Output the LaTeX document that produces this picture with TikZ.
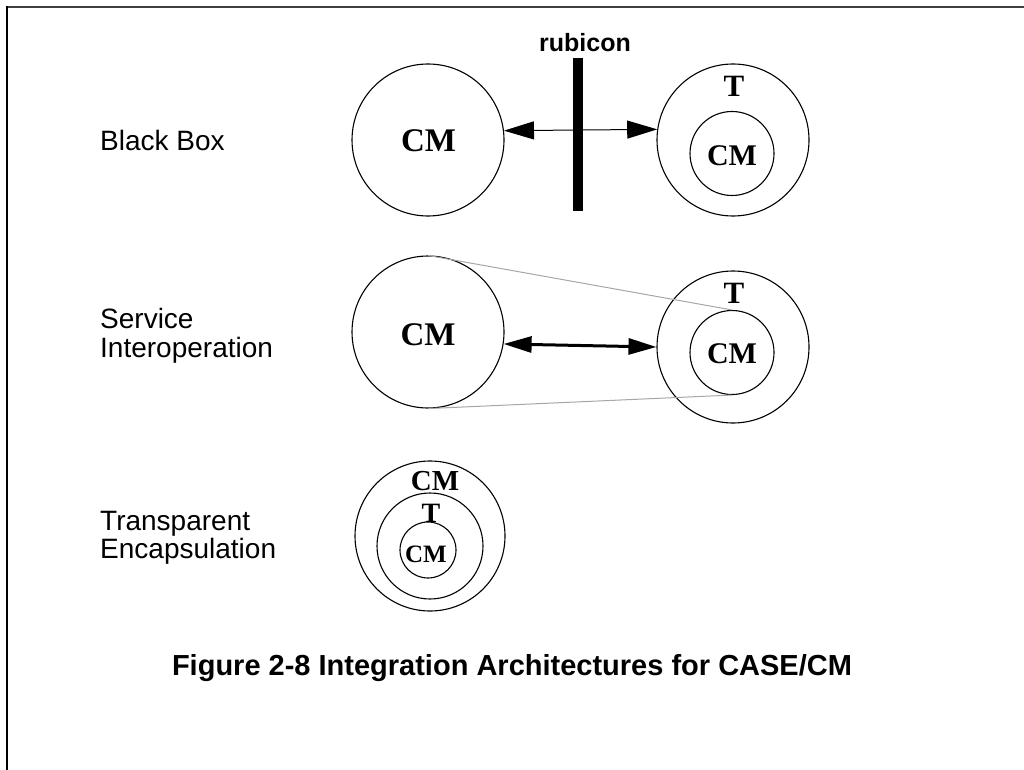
\documentclass[tikz,border=0pt]{standalone}
\usepackage{fontspec}
\setmainfont{Liberation Serif}
\newfontfamily\labelsans{Liberation Sans}
\usetikzlibrary{arrows.meta}

\tikzset{
  ring/.style={circle, draw=black, line width=1.1pt, inner sep=0pt, minimum size=#1},
  tag/.style={inner sep=0pt, anchor=base, font=\bfseries\fontsize{#1}{#1}\selectfont},
  rowlabel/.style={inner sep=0pt, anchor=base west, font=\labelsans\fontsize{28}{29}\selectfont},
  thinlink/.style={line width=1pt, {Triangle[length=30pt,width=18pt]}-{Triangle[length=30pt,width=18pt]}},
  thicklink/.style={line width=3pt, {Triangle[length=28pt,width=16pt]}-{Triangle[length=28pt,width=16pt]}, shorten <=0pt, shorten >=0pt},
  guide/.style={draw=black!35, line width=1pt}
}

\begin{document}
\begin{tikzpicture}[x=1pt, y=-1pt]
  \useasboundingbox (0,0) rectangle (1024,770);

  % frame
  \draw[line width=2pt, black!75] (7,7) -- (1024,7);
  \draw[line width=2pt, black] (7,6) -- (7,770);

  % row labels
  \node[rowlabel] (lblack) at (100,150.7) {Black Box};
  \node[rowlabel] (lserv1) at (100,328) {Service};
  \node[rowlabel] (lserv2) at (100,357) {Interoperation};
  \node[rowlabel] (ltrans1) at (100,530) {Transparent};
  \node[rowlabel] (ltrans2) at (100,558) {Encapsulation};

  % black box
  \node[ring=152pt] (bbL) at (428,140) {};
  \node[ring=152pt] (bbR) at (733,140) {};
  \node[ring=84pt] (bbRin) at (732,153.5) {};
  \node[tag=33] (bbLcm) at (428.5,152) {CM};
  \node[tag=31] (bbRt) at (734,97) {T};
  \node[tag=30] (bbRcm) at (732,165) {CM};
  \node[fill=black, inner sep=0pt, minimum width=10pt, minimum height=153pt] (bar) at (577.5,134.5) {};
  \node[inner sep=0pt, anchor=base, font=\labelsans\bfseries\fontsize{25}{25}\selectfont] (rub) at (585,52) {rubicon};
  \draw[thinlink] (bbL.7.5) -- (bbR.172.5);

  % service interoperation
  \node[ring=152pt] (siL) at (428,332) {};
  \node[ring=152pt] (siR) at (733,347) {};
  \node[ring=84pt] (siRin) at (732,352.5) {};
  \draw[guide] (siL.north) -- (siRin.north);
  \draw[guide] (siL.south) -- (siRin.south);
  \node[tag=33] (siLcm) at (428,345) {CM};
  \node[tag=31] (siRt) at (734,303) {T};
  \node[tag=30] (siRcm) at (732,363) {CM};
  \draw[thicklink] (siL.-9) -- (siR.west);

  % transparent encapsulation
  \node[ring=150pt] (teO) at (430,536) {};
  \node[ring=106pt] (teM) at (430,546) {};
  \node[ring=56pt] (teI) at (428,550) {};
  \node[tag=29] (teOcm) at (435,490) {CM};
  \node[tag=28] (teMt) at (431,522) {T};
  \node[tag=25] (teIcm) at (426,562) {CM};

  % caption
  \node[inner sep=0pt, anchor=base, font=\labelsans\bfseries\fontsize{29}{29}\selectfont] (cap) at (512,675) {Figure 2-8 Integration Architectures for CASE/CM};
\end{tikzpicture}
\end{document}
